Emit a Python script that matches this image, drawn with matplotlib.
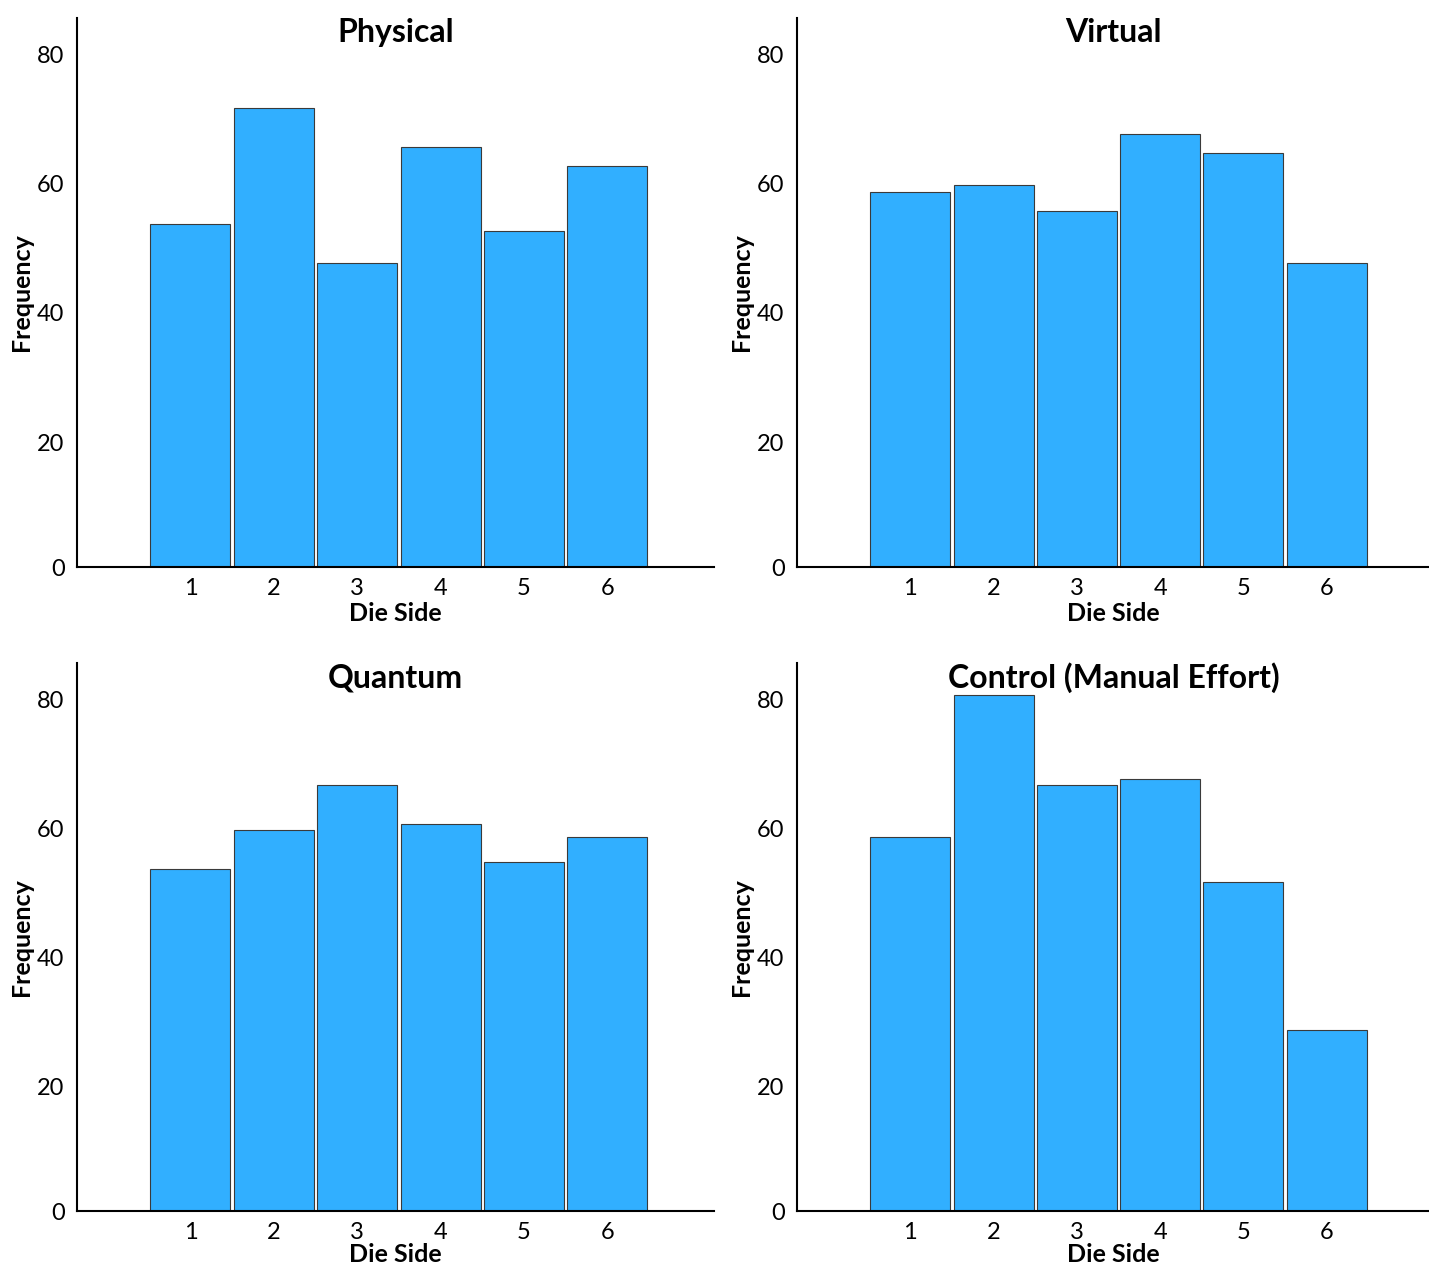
import matplotlib as mpl
mpl.use('agg')
import matplotlib.pyplot as plt
from matplotlib.transforms import ScaledTranslation
import numpy as np

# die faces and frequency counts per condition (350 rolls each)
sides = [1, 2, 3, 4, 5, 6]
physical = [53, 71, 47, 65, 52, 62]
virtual = [58, 59, 55, 67, 64, 47]
quantum = [53, 59, 66, 60, 54, 58]
control = [58, 80, 66, 67, 51, 28]
titles = ['Physical', 'Virtual', 'Quantum', 'Control (Manual Effort)']
yticks = [0, 20, 40, 60, 80]

plt.rcParams['font.family'] = ['Lato', 'DejaVu Sans']

W, H = 1429, 1267
fig = plt.figure(figsize=(W/100, H/100), dpi=100)

# axes boxes in pixels: left, top, right, bottom
boxes = [(77, 18, 714, 567), (797, 18, 1430, 567),
         (77, 663, 714, 1211), (797, 663, 1430, 1211)]
series = [physical, virtual, quantum, control]

for (l, t, r, b), vals, title in zip(boxes, series, titles):
    ax = fig.add_axes([l/W, 1-b/H, (r-l)/W, (b-t)/H])
    ax.bar(sides, vals, width=0.96, color='#31AFFF', edgecolor='#3a3a3a', linewidth=0.8)
    ax.set_xlim(-0.36, 7.28 if r < 1000 else 7.24)
    ax.set_ylim(0.4, 84.9)
    ax.set_xticks(sides)
    ax.set_yticks(yticks)
    for s in ['top', 'right']:
        ax.spines[s].set_visible(False)
    for s in ['left', 'bottom']:
        ax.spines[s].set_linewidth(1.5)
    ax.tick_params(length=0, labelsize=17, pad=9)
    ax.tick_params(axis='x', pad=8)
    # value labels sit a few pixels below their gridline, except the zero
    off = ScaledTranslation(0, -0.045, fig.dpi_scale_trans)
    for i, lbl in enumerate(ax.yaxis.get_majorticklabels()):
        if i > 0:
            lbl.set_transform(lbl.get_transform() + off)
    ax.set_xlabel('Die Side', fontsize=18, fontweight='bold',
                  labelpad=2 if b < 1000 else 0)
    ax.set_ylabel('Frequency', fontsize=18, fontweight='bold', labelpad=3)
    ax.text(0.5, 0.973, title, transform=ax.transAxes, ha='center', va='center',
            fontsize=23, fontweight='bold')

plt.savefig('out.png', dpi=100)
plt.close(fig)
